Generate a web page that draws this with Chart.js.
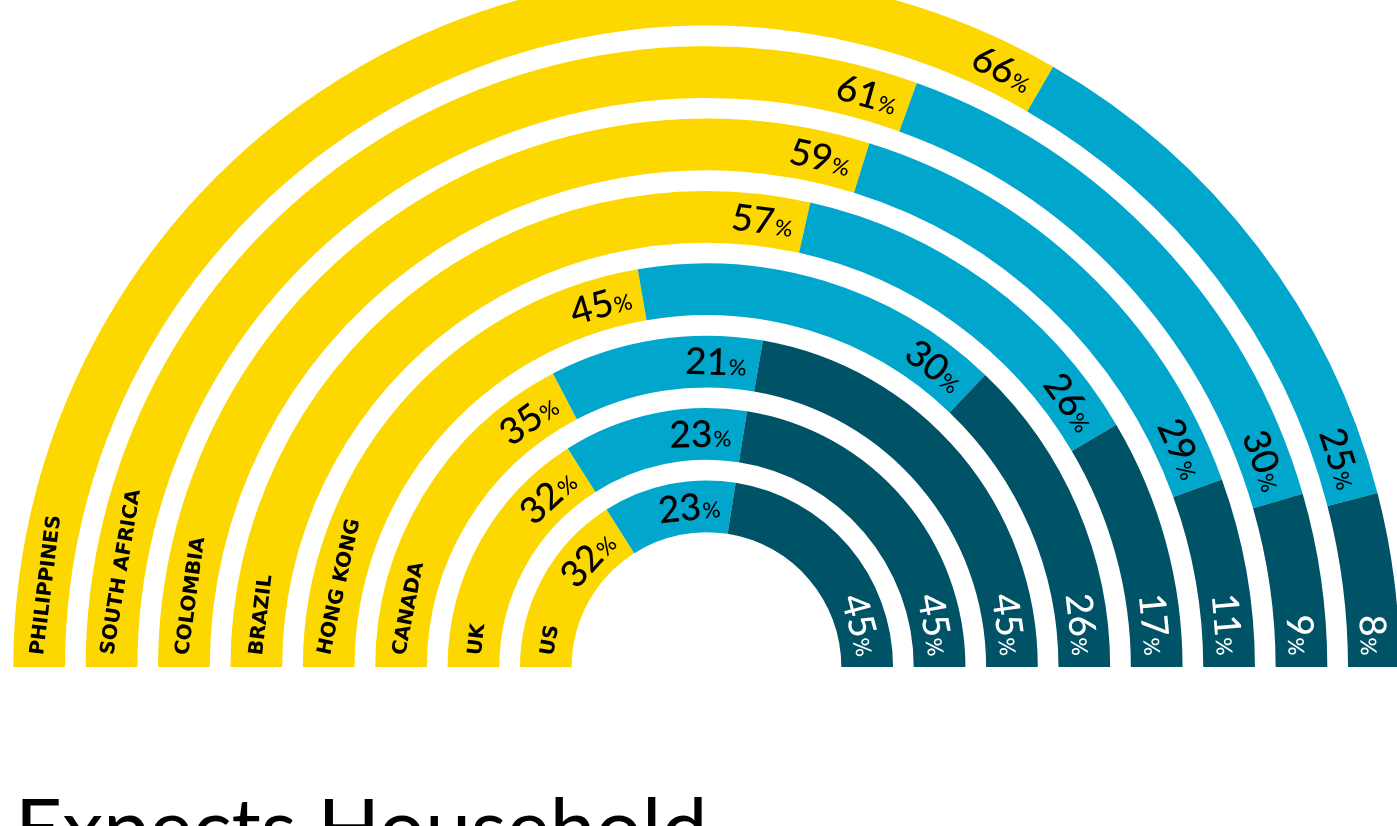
<!DOCTYPE html>
<html>
<head>
<meta charset="utf-8">
<script src="https://cdn.jsdelivr.net/npm/chart.js@4"></script>
<style>
  html, body { margin: 0; padding: 0; background: #fff; overflow: hidden; }
  #wrap { position: relative; width: 1397px; height: 826px; overflow: hidden; }
  #title { position: absolute; left: 15px; top: 784px; font: 400 82px Lato, sans-serif; line-height: 82px; white-space: nowrap; color: #000; }
</style>
</head>
<body>
<div id="wrap">
  <canvas id="arcs" width="1397" height="826"></canvas>
  <div id="title">Expects Household</div>
</div>
<script>
/* --------------- Data (outer ring first) --------------------- */
const countries = ["PHILIPPINES", "SOUTH AFRICA", "COLOMBIA", "BRAZIL", "HONG KONG", "CANADA", "UK", "US"];
const yellowVals = [66, 61, 59, 57, 45, 35, 32, 32];
const lightVals = [25, 30, 29, 26, 30, 21, 23, 23];
const darkVals = [8, 9, 11, 17, 26, 45, 45, 45];

const segColors = ["#FCD800", "#00A6CC", "#005366"];
const textColors = ["#000000", "#000000", "#ffffff"];

/* --------------- Rings + transparent spacers --------------------- */
const datasets = [];
countries.forEach((name, i) => {
  datasets.push({
    label: name,
    data: [yellowVals[i], lightVals[i], darkVals[i]],
    backgroundColor: segColors,
    borderWidth: 0,
    weight: 1,
  });
  if (i < countries.length - 1) {
    datasets.push({
      label: "gap",
      data: [1],
      backgroundColor: "rgba(0,0,0,0)",
      borderWidth: 0,
      weight: 0.4,
    });
  }
});

/* --------------- Labels along the arcs --------------------- */
const numFont = "500 37px Lato";
const pctFont = "500 22px Lato";
const nameFont = "bold 20px 'DejaVu Sans'";

function placeText(ctx, cx, cy, r, angle, draw) {
  ctx.save();
  ctx.translate(cx + Math.cos(angle) * r, cy + Math.sin(angle) * r);
  ctx.rotate(angle + Math.PI / 2);
  draw();
  ctx.restore();
}

const arcLabels = {
  id: "arcLabels",
  afterDatasetsDraw(chart) {
    const ctx = chart.ctx;
    countries.forEach((name, i) => {
      const meta = chart.getDatasetMeta(i * 2);
      meta.data.forEach((arc, j) => {
        const p = arc.getProps(["x", "y", "startAngle", "endAngle", "innerRadius", "outerRadius"], true);
        const r = (p.innerRadius + p.outerRadius) / 2;
        const num = String(chart.data.datasets[i * 2].data[j]);
        ctx.font = numFont;
        const wN = ctx.measureText(num).width;
        ctx.font = pctFont;
        const wP = ctx.measureText("%").width;
        const w = wN + wP + 1;
        const mid = p.endAngle - (12 + w / 2) / r;
        ctx.fillStyle = textColors[j];
        ctx.textAlign = "left";
        ctx.textBaseline = "alphabetic";
        placeText(ctx, p.x, p.y, r, mid, () => {
          ctx.font = numFont;
          ctx.fillText(num, -w / 2, 13);
          ctx.font = pctFont;
          ctx.fillText("%", -w / 2 + wN + 1, 13);
        });
        // country name at the left end
        if (j === 0) {
          ctx.font = nameFont;
          const wName = ctx.measureText(name).width;
          const a = p.startAngle + (12 + wName / 2) / r;
          ctx.fillStyle = "#000";
          ctx.textAlign = "center";
          placeText(ctx, p.x, p.y, r, a, () => {
            ctx.fillText(name, 0, 7.5);
          });
        }
      });
    });
  },
};

/* --------------- Chart --------------------- */
new Chart(document.getElementById("arcs"), {
  type: "doughnut",
  data: { labels: ["yes", "maybe", "no"], datasets: datasets },
  plugins: [arcLabels],
  options: {
    responsive: false,
    animation: false,
    events: [],
    rotation: -90,
    circumference: 180,
    radius: 693.2,
    cutout: "19.45%",
    layout: { padding: { left: 16, right: 0, top: 0, bottom: 185.2 } },
    plugins: {
      legend: { display: false },
      tooltip: { enabled: false },
    },
  },
});
</script>
</body>
</html>
